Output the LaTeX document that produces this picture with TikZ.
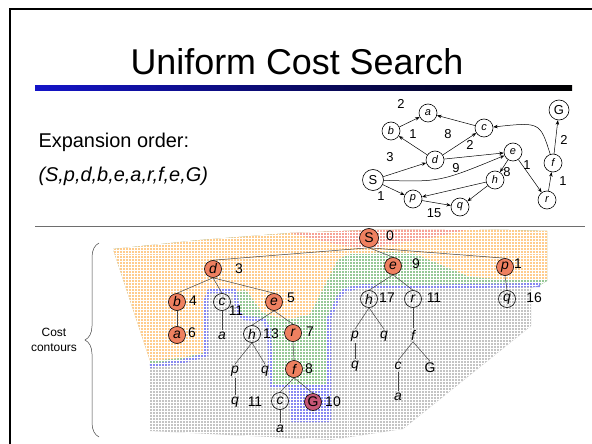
\documentclass[tikz,border=0pt]{standalone}
\usepackage{fontspec}
\setmainfont{Liberation Sans}
\usetikzlibrary{arrows.meta,positioning,calc,patterns,decorations.pathreplacing}

\definecolor{barblue}{RGB}{20,20,200}
\definecolor{rulegray}{RGB}{110,110,110}
\definecolor{contourred}{RGB}{246,162,150}
\definecolor{contourorange}{RGB}{255,204,140}
\definecolor{contourgreen}{RGB}{150,200,150}
\definecolor{contourblue}{RGB}{135,135,240}
\definecolor{contourgray}{RGB}{196,196,196}
\definecolor{poppedfill}{RGB}{238,128,96}
\definecolor{goalfill}{RGB}{198,86,118}
\definecolor{treeline}{RGB}{70,70,70}

\begin{document}
\begin{tikzpicture}[
    x=1bp, y=-1bp,
    every node/.style={font=\fontsize{13}{15}\selectfont},
    gnode/.style={circle, draw, line width=0.6bp, minimum size=18bp, inner sep=0pt, fill=white, font=\fontsize{11}{13}\selectfont\itshape},
    garrow/.style={-{Stealth[length=4.5bp, width=3.5bp]}, line width=0.5bp},
    weight/.style={inner sep=0pt, font=\fontsize{13}{15}\selectfont},
    tnode/.style={circle, draw, line width=0.6bp, minimum size=17bp, inner sep=0pt, font=\fontsize{14}{16}\selectfont\itshape},
    popped/.style={tnode, fill=poppedfill},
    goal/.style={tnode, fill=goalfill},
    leaf/.style={inner sep=1.5bp, font=\fontsize{14}{16}\selectfont\itshape},
    cost/.style={inner sep=0pt, font=\fontsize{14}{16}\selectfont},
    branch/.style={draw=treeline, line width=0.5bp}
]
\useasboundingbox (0,0) rectangle (592,444);

% Slide frame and heading
\coordinate (frameTL) at (10,9);
\draw[line width=2.5bp] (592,9) -- (frameTL) -- (10,444);
\node[anchor=base, font=\fontsize{36}{40}\selectfont] (title) at (297,75) {Uniform Cost Search};
\shade[left color=barblue, right color=black] (35,86) rectangle (572,91);

\node[anchor=base west, font=\fontsize{20}{24}\selectfont] (orderhead) at (35,148) {Expansion order:};
\node[anchor=base west, font=\fontsize{20}{24}\selectfont\itshape] (orderlist) at (35,182) {(S,p,d,b,e,a,r,f,e,G)};
\draw[rulegray, line width=0.8bp] (35,226) -- (585,226);

% State graph
\node[gnode] (sa) at (428,113) {a};
\node[gnode] (sb) at (391,131) {b};
\node[gnode] (sc) at (484,128) {c};
\node[gnode] (sd) at (435,160) {d};
\node[gnode] (se) at (513,152) {e};
\node[gnode, minimum size=21bp, font=\fontsize{13}{15}\selectfont] (sS) at (373,180) {S};
\node[gnode] (sh) at (495,180) {h};
\node[gnode] (sp) at (413,199) {p};
\node[gnode] (sq) at (460,207) {q};
\node[gnode] (sr) at (547,200) {r};
\node[gnode] (sf) at (553,163) {f};
\node[gnode, minimum size=20bp, font=\fontsize{13}{15}\selectfont] (sG) at (559,110) {G};

\draw[garrow] (sb) -- (sa);
\draw[garrow] (sc) -- (sa);
\draw[garrow] (sd) -- (sb);
\draw[garrow] (sd) -- (sc);
\draw[garrow] (sd) -- (se);
\draw[garrow] (sS) -- (sd);
\draw[garrow] (sS) .. controls (440,182) .. (se);
\draw[garrow] (sS) -- (sp);
\draw[garrow] (sp) -- (sq);
\draw[garrow] (sh) -- (sp);
\draw[garrow] (sh) -- (sq);
\draw[garrow] (se) -- (sh);
\draw[garrow] (se) -- (sr);
\draw[garrow] (sr) -- (sf);
\draw[garrow] (sf) -- (sG);
\draw[garrow] (sf) .. controls (540,122) .. (sc);

\node[weight] (w-ba) at (401,104) {2};
\node[weight] (w-db) at (413,134) {1};
\node[weight] (w-dc) at (448,134) {8};
\node[weight] (w-de) at (470,145) {2};
\node[weight] (w-Sd) at (390,157) {3};
\node[weight] (w-Se) at (456,168) {9};
\node[weight] (w-eh) at (507,172) {8};
\node[weight] (w-er) at (527,165) {1};
\node[weight] (w-Sp) at (381,196) {1};
\node[weight] (w-pq) at (434,213) {15};
\node[weight] (w-rf) at (563,181) {1};
\node[weight] (w-fG) at (564,140) {2};

% Cost contours
\fill[contourgray] (113,249) -- (200,240) -- (290,233) -- (370,230) -- (470,229) -- (547,231)
  -- (547,281) -- (537,286) -- (531,288) -- (531,326) -- (403,429) -- (330,440) -- (150,431) -- (150,360) -- cycle;
\fill[contourgreen] (113,249) -- (200,240) -- (290,233) -- (370,230) -- (470,229) -- (547,231)
  -- (547,281) -- (540,285) -- (470,286) -- (400,287) -- (362,286) -- (345,290) -- (338,298) -- (333,310)
  -- (329,318) -- (329,420) -- (292,420) -- (291,386) -- (271,386) -- (269,330) -- (264,320) -- (244,318)
  -- (238,312) -- (235,291) -- (209,291) -- (206,300) -- (206,355) -- (180,362) -- (150,366) -- (150,360) -- cycle;
\fill[contourblue] (291,384) rectangle (329,420);
\fill[contourorange] (113,249) -- (200,240) -- (290,233) -- (370,230) -- (470,229) -- (547,231)
  -- (547,280) -- (500,279) -- (470,277) -- (437,263) -- (413,253) -- (387,252) -- (350,254) -- (338,259)
  -- (325,285) -- (310,314) -- (290,319) -- (275,317) -- (262,312) -- (252,298) -- (246,290) -- (235,291)
  -- (209,291) -- (206,300) -- (206,352) -- (180,358) -- (150,361) -- cycle;
\draw[contourblue, line width=4bp, line join=round] (540,285) -- (470,286) -- (400,287) -- (362,286) -- (345,290)
  -- (338,298) -- (333,310) -- (329,318) -- (329,420) -- (292,420) -- (291,386) -- (271,386) -- (269,330)
  -- (264,320) -- (244,318) -- (238,312) -- (235,291) -- (209,291) -- (206,300) -- (206,355) -- (180,362) -- (150,366);
\fill[contourred] (290,233) -- (370,230) -- (470,229) -- (440,236) -- (400,243) -- (370,248) -- (345,246) -- (318,240) -- cycle;
\fill[pattern=grid, pattern color=white] (113,249) -- (200,240) -- (290,233) -- (370,230) -- (470,229) -- (547,231)
  -- (547,281) -- (537,286) -- (531,288) -- (531,326) -- (403,429) -- (330,440) -- (150,431) -- (150,360) -- cycle;

% Search tree
\node[popped, minimum size=19bp, font=\fontsize{14}{16}\selectfont] (S) at (369,238) {S};
\node[cost] (kS) at (390,236) {0};
\node[popped] (d) at (213,269) {d};
\node[cost] (kd) at (239,269) {3};
\node[popped] (e1) at (393,266) {e};
\node[cost] (ke1) at (416,264) {9};
\node[popped] (p1) at (505,267) {p};
\node[cost] (kp1) at (518,264) {1};

\node[popped] (b) at (177,302) {b};
\node[cost] (kb) at (193,301) {4};
\node[tnode] (c1) at (222,302) {c};
\node[cost] (kc1) at (236,311) {11};
\node[popped] (e2) at (274,302) {e};
\node[cost] (ke2) at (291,298) {5};
\node[tnode] (h1) at (369,299) {h};
\node[cost] (kh1) at (387,298) {17};
\node[tnode] (r1) at (413,299) {r};
\node[cost] (kr1) at (434,298) {11};
\node[tnode] (q1) at (507,299) {q};
\node[cost] (kq1) at (534,298) {16};

\node[popped] (a1) at (177,335) {a};
\node[cost] (ka1) at (192,333) {6};
\node[leaf] (a2) at (222,336) {a};
\node[tnode] (h2) at (252,334) {h};
\node[cost] (kh2) at (271,334) {13};
\node[popped] (r2) at (293,333) {r};
\node[cost] (kr2) at (310,332) {7};
\node[leaf] (p2) at (355,336) {p};
\node[leaf] (q2) at (384,336) {q};
\node[leaf] (f1) at (413,335) {f};

\node[leaf] (p3) at (235,371) {p};
\node[leaf] (q3) at (265,371) {q};
\node[popped] (f2) at (294,369) {f};
\node[cost] (kf2) at (309,369) {8};
\node[leaf] (q4) at (355,366) {q};
\node[leaf] (c2) at (398,366) {c};
\node[leaf, font=\fontsize{14}{16}\selectfont] (G1) at (430,368) {G};

\node[leaf] (q5) at (235,402) {q};
\node[cost] (kq5) at (255,402) {11};
\node[tnode] (c3) at (280,401) {c};
\node[goal, font=\fontsize{14}{16}\selectfont] (G2) at (313,402) {G};
\node[cost] (kG2) at (333,402) {10};
\node[leaf] (a3) at (398,397) {a};
\node[leaf] (a4) at (280,429) {a};

% Tree branches
\draw[branch] (S.south) -- (d.north);
\draw[branch] (S.south) -- (e1.north);
\draw[branch] (S.south) -- (p1.north);
\draw[branch] (d.south) -- (b.north);
\draw[branch] (d.south) -- (c1.north);
\draw[branch] (d.south) -- (e2.north);
\draw[branch] (b.south) -- (a1.north);
\draw[branch] (c1.south) -- (a2.north);
\draw[branch] (e2.south) -- (h2.north);
\draw[branch] (e2.south) -- (r2.north);
\draw[branch] (h2.south) -- (p3.north);
\draw[branch] (h2.south) -- (q3.north);
\draw[branch] (p3.south) -- (q5.north);
\draw[branch] (r2.south) -- (f2.north);
\draw[branch] (f2.south) -- (c3.north);
\draw[branch] (f2.south) -- (G2.north);
\draw[branch] (c3.south) -- (a4.north);
\draw[branch] (e1.south) -- (h1.north);
\draw[branch] (e1.south) -- (r1.north);
\draw[branch] (h1.south) -- (p2.north);
\draw[branch] (h1.south) -- (q2.north);
\draw[branch] (p2.south) -- (q4.north);
\draw[branch] (r1.south) -- (f1.north);
\draw[branch] (f1.south) -- (c2.north);
\draw[branch] (f1.south) -- (G1.north);
\draw[branch] (c2.south) -- (a3.north);
\draw[branch] (p1.south) -- (q1.north);

% Brace with caption
\coordinate (braceBot) at (99,437);
\coordinate (braceTop) at (99,243);
\draw[decorate, decoration={brace, amplitude=14bp}, line width=0.5bp, draw=black!75] (braceBot) -- (braceTop);
\node[align=center, font=\fontsize{12}{15}\selectfont] (contours) at (54,340) {Cost\\contours};

\end{tikzpicture}
\end{document}
